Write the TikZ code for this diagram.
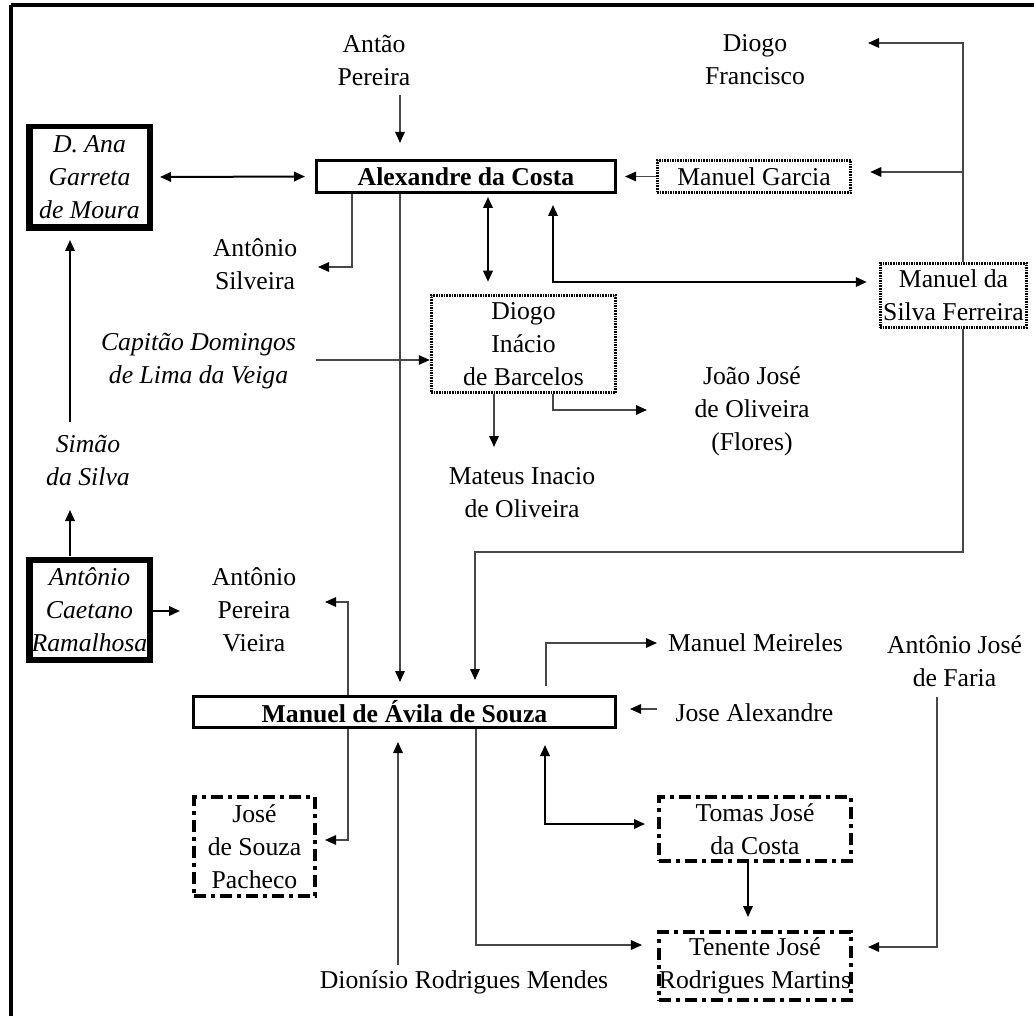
\documentclass[tikz,border=0pt]{standalone}
\usepackage{fontspec}
\setmainfont{Liberation Serif}
\usetikzlibrary{arrows.meta,calc}
\newcommand\myfs{\fontsize{25.7}{33}\selectfont}
\begin{document}
\begin{tikzpicture}[x=1pt,y=-1pt,
  >={Triangle[length=11pt,width=9.5pt,color=black]},
  lbl/.style={inner sep=0pt,align=center,font=\myfs},
  ilbl/.style={inner sep=0pt,align=center,font=\myfs\itshape},
  pbox/.style={draw,line width=3pt,inner sep=0pt,align=center,font=\myfs\bfseries},
  dotbox/.style={draw,line width=3pt,dash pattern=on 1.6pt off 1pt,inner sep=0pt,align=center,font=\myfs},
  ddbox/.style={draw,line width=4pt,dash pattern=on 12pt off 5pt on 4pt off 5pt,inner sep=0pt,align=center,font=\myfs},
  dblbox/.style={draw,line width=6.5pt,inner sep=0pt,align=center,font=\myfs\itshape,minimum width=120.5pt},
  cn/.style={draw=black!72,line width=1.5pt},
  cnb/.style={draw=black,line width=2pt}]
\useasboundingbox (0,0) rectangle (1034,1016);
% frame
\draw[line width=4pt] (10.5,5.3) -- (1034,5.3);
\draw[line width=4pt] (10.5,5.3) -- (10.5,1016);

% boxes
\node[pbox,minimum width=299pt,minimum height=32pt] (alex) at (466,176.5) {Alexandre da Costa};
\node[pbox,minimum width=422pt,minimum height=31pt] (avila) at (404.5,712) {Manuel de Ávila de Souza};
\node[dblbox,minimum height=101.5pt] (ana) at (89.5,177) {D. Ana\\Garreta\\de Moura};
\draw[white,line width=1.4pt] (ana.north west) -- (ana.north east);
\node[dblbox,minimum height=100.5pt] (ramal) at (89.5,609.5) {Antônio\\Caetano\\Ramalhosa};
\draw[white,line width=1.4pt] (ramal.north west) -- (ramal.north east);
\node[dotbox,minimum width=184.5pt,minimum height=97.5pt] (diogo) at (523.5,344) {Diogo\\Inácio\\de Barcelos};
\node[dotbox,minimum width=193.5pt,minimum height=32.5pt] (garcia) at (754,176.5) {Manuel Garcia};
\node[dotbox,minimum width=146.5pt,minimum height=64.5pt] (silvaf) at (953.5,295.5) {Manuel da\\Silva Ferreira};
\node[ddbox,minimum width=192pt,minimum height=64pt] (tomas) at (755,829) {Tomas José\\da Costa};
\node[ddbox,minimum width=192pt,minimum height=68pt] (tenente) at (755,966) {Tenente José\\Rodrigues Martins};
\node[ddbox,minimum width=121pt,minimum height=99pt] (pacheco) at (254.5,846.5) {José\\de Souza\\Pacheco};

% labels
\node[lbl] (antao) at (374,60) {Antão\\Pereira};
\node[lbl] (diogof) at (755,60) {Diogo\\Francisco};
\node[lbl] (asilveira) at (255,264) {Antônio\\Silveira};
\node[ilbl] (capitao) at (198.5,361) {Capitão Domingos\\de Lima da Veiga};
\node[ilbl] (simao) at (88,460) {Simão\\da Silva};
\node[lbl] (mateus) at (522,493) {Mateus Inacio\\de Oliveira};
\node[lbl] (joao) at (752,411) {João José\\de Oliveira\\(Flores)};
\node[lbl] (apvieira) at (254,610) {Antônio\\Pereira\\Vieira};
\node[lbl] (meireles) at (755.5,643) {Manuel Meireles};
\node[lbl] (faria) at (954.5,661) {Antônio José\\de Faria};
\node[lbl] (josealex) at (754.5,713) {Jose Alexandre};
\node[lbl] (dionisio) at (464,982) {Dionísio Rodrigues Mendes};

% helper coordinates
\coordinate (a1) at (400,95);
\coordinate (asC) at (352,267);
\coordinate (asT) at (318,267);
\coordinate (xA) at (400,0);
\coordinate (xD) at (488,0);
\coordinate (sfC) at (553,282);
\coordinate (sfT) at (963,43);
\coordinate (dfT) at (868,43);
\coordinate (gB) at (963,172);
\coordinate (cpS) at (316,360);
\coordinate (mtT) at (494,447);
\coordinate (jC) at (553,410);
\coordinate (jT) at (647,410);
\coordinate (sa1) at (963,552);
\coordinate (sa2) at (475,552);
\coordinate (smT) at (70,422);
\coordinate (smB) at (70,510);
\coordinate (apT) at (180,611);
\coordinate (pvC) at (348,602);
\coordinate (pvT) at (325,602);
\coordinate (pcC) at (348,840);
\coordinate (mrC) at (546,643);
\coordinate (mrT) at (657,643);
\coordinate (jaS) at (657,709);
\coordinate (tmC) at (545,824);
\coordinate (xT) at (748,0);
\coordinate (tnC) at (476,945);
\coordinate (frS) at (937,697);
\coordinate (frC) at (937,947);
\coordinate (dnS) at (398,965);

% connectors
\draw[cn,->,shorten >=16pt] (a1) -- (a1 |- alex.north);
\draw[cnb,<->,shorten <=7pt,shorten >=10pt] (ana.east) -- (alex.west);
\draw[cn,->] (alex.south -| asC) -- (asC) -- (asT);
\draw[cn,->,shorten >=13pt] (alex.south -| xA) -- (avila.north -| xA);
\draw[cnb,<->,shorten <=3pt,shorten >=12pt] (alex.south -| xD) -- (diogo.north -| xD);
\draw[cnb,<->,shorten <=11pt,shorten >=12pt] (alex.south -| sfC) -- (sfC) -- (sfC -| silvaf.west);
\draw[cn,->] (silvaf.north -| sfT) -- (sfT) -- (dfT);
\draw[cn,->,shorten >=18pt] (gB) -- (gB -| garcia.east);
\draw[cn,->,shorten >=8pt] (garcia.west) -- (alex.east);
\draw[cn,->] (cpS) -- (cpS -| diogo.west);
\draw[cn,->] (diogo.south -| mtT) -- (mtT);
\draw[cn,->] (diogo.south -| jC) -- (jC) -- (jT);
\draw[cn,->,shorten >=15pt] (silvaf.south -| sa1) -- (sa1) -- (sa2) -- (sa2 |- avila.north);
\draw[cnb,->,shorten >=9pt] (smT) -- (smT |- ana.south);
\draw[cnb,->] (ramal.north -| smB) -- (smB);
\draw[cnb,->] (ramal.east |- apT) -- (apT);
\draw[cn,->] (avila.north -| pvC) -- (pvC) -- (pvT);
\draw[cn,->,shorten >=8pt] (avila.south -| pcC) -- (pcC) -- (pcC -| pacheco.east);
\draw[cn,->,shorten <=9pt] (avila.north -| mrC) -- (mrC) -- (mrT);
\draw[cn,->,shorten >=13pt] (jaS) -- (jaS -| avila.east);
\draw[cnb,<->,shorten <=16pt,shorten >=12pt] (avila.south -| tmC) -- (tmC) -- (tmC -| tomas.west);
\draw[cnb,->,shorten >=13pt] (tomas.south -| xT) -- (tenente.north -| xT);
\draw[cn,->,shorten >=15pt] (avila.south -| tnC) -- (tnC) -- (tnC -| tenente.west);
\draw[cn,->,shorten >=15pt] (frS) -- (frC) -- (frC -| tenente.east);
\draw[cn,->,shorten >=13pt] (dnS) -- (dnS |- avila.south);
\end{tikzpicture}
\end{document}
